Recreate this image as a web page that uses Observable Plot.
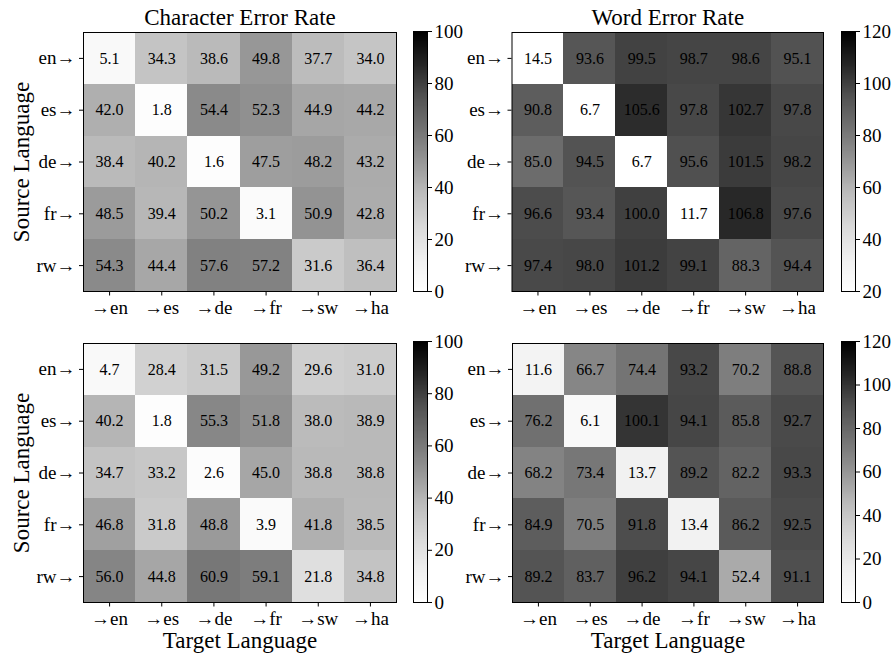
<!DOCTYPE html>
<html><head><meta charset="utf-8">
<script src="https://cdn.jsdelivr.net/npm/d3@7"></script>
<script src="https://cdn.jsdelivr.net/npm/@observablehq/plot@0.6"></script>
<style>
body{margin:0;background:#fff;}
#root{position:relative;width:893px;height:653px;overflow:hidden;}
#root > div{position:absolute;}
#root svg{max-width:none !important;}
</style></head><body><div id="root"></div>
<script>
const sources = ["en→", "es→", "de→", "fr→", "rw→"];
const targets = ["→en", "→es", "→de", "→fr", "→sw", "→ha"];

const cerTop = [
  [5.1, 34.3, 38.6, 49.8, 37.7, 34.0],
  [42.0, 1.8, 54.4, 52.3, 44.9, 44.2],
  [38.4, 40.2, 1.6, 47.5, 48.2, 43.2],
  [48.5, 39.4, 50.2, 3.1, 50.9, 42.8],
  [54.3, 44.4, 57.6, 57.2, 31.6, 36.4]
];
const werTop = [
  [14.5, 93.6, 99.5, 98.7, 98.6, 95.1],
  [90.8, 6.7, 105.6, 97.8, 102.7, 97.8],
  [85.0, 94.5, 6.7, 95.6, 101.5, 98.2],
  [96.6, 93.4, 100.0, 11.7, 106.8, 97.6],
  [97.4, 98.0, 101.2, 99.1, 88.3, 94.4]
];
const cerBottom = [
  [4.7, 28.4, 31.5, 49.2, 29.6, 31.0],
  [40.2, 1.8, 55.3, 51.8, 38.0, 38.9],
  [34.7, 33.2, 2.6, 45.0, 38.8, 38.8],
  [46.8, 31.8, 48.8, 3.9, 41.8, 38.5],
  [56.0, 44.8, 60.9, 59.1, 21.8, 34.8]
];
const werBottom = [
  [11.6, 66.7, 74.4, 93.2, 70.2, 88.8],
  [76.2, 6.1, 100.1, 94.1, 85.8, 92.7],
  [68.2, 73.4, 13.7, 89.2, 82.2, 93.3],
  [84.9, 70.5, 91.8, 13.4, 86.2, 92.5],
  [89.2, 83.7, 96.2, 94.1, 52.4, 91.1]
];
const titles = ["Character Error Rate", "Word Error Rate"];
const yLabel = "Source Language";
const xLabel = "Target Language";
const cerTicks = [0, 20, 40, 60, 80, 100];
const werTopTicks = [20, 40, 60, 80, 100, 120];
const werBottomTicks = [0, 20, 40, 60, 80, 100, 120];

const FONT = '"Liberation Serif","Times New Roman",serif';
const GREYS = ["#ffffff","#f0f0f0","#d9d9d9","#bdbdbd","#969696","#737373","#525252","#252525","#000000"];
function colorScale(lo, hi) {
  return {type: "linear", domain: GREYS.map((_, i) => lo + (hi - lo) * i / (GREYS.length - 1)), range: GREYS, clamp: true};
}
function table(M) {
  return sources.flatMap((s, i) => targets.map((t, j) => ({src: s, tgt: t, v: M[i][j]})));
}
const root = document.getElementById("root");
function place(el, left, top, w, h) {
  const d = document.createElement("div");
  d.style.left = left + "px"; d.style.top = top + "px";
  d.style.width = w + "px"; d.style.height = h + "px";
  d.appendChild(el); root.appendChild(d);
}
const baseStyle = {fontFamily: FONT, color: "black", background: "none", overflow: "visible", maxWidth: "none"};

function heatmap({M, lo, hi, title, xl, yl, left, top, W, H, ml, mt, pw, ph}) {
  const data = table(M);
  const marks = [
    Plot.cell(data, {x: "tgt", y: "src", fill: "v", inset: 0, shapeRendering: "crispEdges"}),
    Plot.text(data, {x: "tgt", y: "src", text: d => d.v.toFixed(1), fill: "black", fontSize: 16}),
    Plot.frame({stroke: "black", strokeWidth: 1}),
    Plot.axisX({tickSize: 4.5, tickPadding: 4, fontSize: 19, label: null}),
    Plot.axisY({tickSize: 4, tickPadding: 4, fontSize: 19, label: null})
  ];
  if (yl) marks.push(Plot.axisY({ticks: [], tickSize: 0, label: yl, labelAnchor: "center", labelOffset: 71, fontSize: 23}));
  if (xl) marks.push(Plot.axisX({ticks: [], tickSize: 0, label: xl, labelAnchor: "center", labelOffset: 45, fontSize: 23}));
  if (title) marks.push(Plot.text([title], {text: d => d, frameAnchor: "top", lineAnchor: "bottom", dy: -8, fontSize: 23, fill: "black"}));
  const p = Plot.plot({
    width: W, height: H,
    marginLeft: ml, marginTop: mt, marginRight: W - ml - pw, marginBottom: H - mt - ph,
    style: baseStyle,
    x: {domain: targets, padding: 0, round: false},
    y: {domain: sources, padding: 0, round: false},
    color: colorScale(lo, hi),
    marks
  });
  place(p, left, top, W, H);
}

function colorbar({lo, hi, ticks, left, top, bw, bh}) {
  const mt = 14, mb = 14, ml = 1, mr = 50;
  const p = Plot.plot({
    width: ml + bw + mr, height: mt + bh + mb,
    marginLeft: ml, marginRight: mr, marginTop: mt, marginBottom: mb,
    style: baseStyle,
    x: {domain: [0, 1], axis: null},
    y: {domain: [lo, hi]},
    color: colorScale(lo, hi),
    marks: [
      Plot.raster({fill: (x, y) => y, x1: 0, x2: 1, y1: lo, y2: hi, width: 1, height: 300, imageRendering: "auto"}),
      Plot.frame({stroke: "black", strokeWidth: 1}),
      Plot.axisY({anchor: "right", ticks, tickSize: 4, tickPadding: 3, fontSize: 19, label: null})
    ]
  });
  place(p, left - ml, top - mt, ml + bw + mr, mt + bh + mb);
}

heatmap({M: cerTop, lo: 0, hi: 100, title: titles[0], yl: yLabel, left: 0, top: 0, W: 405, H: 320, ml: 83, mt: 32, pw: 313, ph: 259});
heatmap({M: werTop, lo: 20, hi: 120, title: titles[1], left: 430, top: 0, W: 400, H: 320, ml: 81.5, mt: 32, pw: 311.5, ph: 259});
heatmap({M: cerBottom, lo: 0, hi: 100, yl: yLabel, xl: xLabel, left: 0, top: 311, W: 405, H: 342, ml: 83, mt: 32, pw: 313, ph: 259});
heatmap({M: werBottom, lo: 0, hi: 120, xl: xLabel, left: 430, top: 311, W: 400, H: 342, ml: 82, mt: 32, pw: 311, ph: 259});

colorbar({lo: 0, hi: 100, ticks: cerTicks, left: 413, top: 31, bw: 14, bh: 260});
colorbar({lo: 20, hi: 120, ticks: werTopTicks, left: 841, top: 31, bw: 14, bh: 260});
colorbar({lo: 0, hi: 100, ticks: cerTicks, left: 413, top: 341, bw: 14, bh: 261});
colorbar({lo: 0, hi: 120, ticks: werBottomTicks, left: 841, top: 341, bw: 14, bh: 261});
</script>
</body></html>
